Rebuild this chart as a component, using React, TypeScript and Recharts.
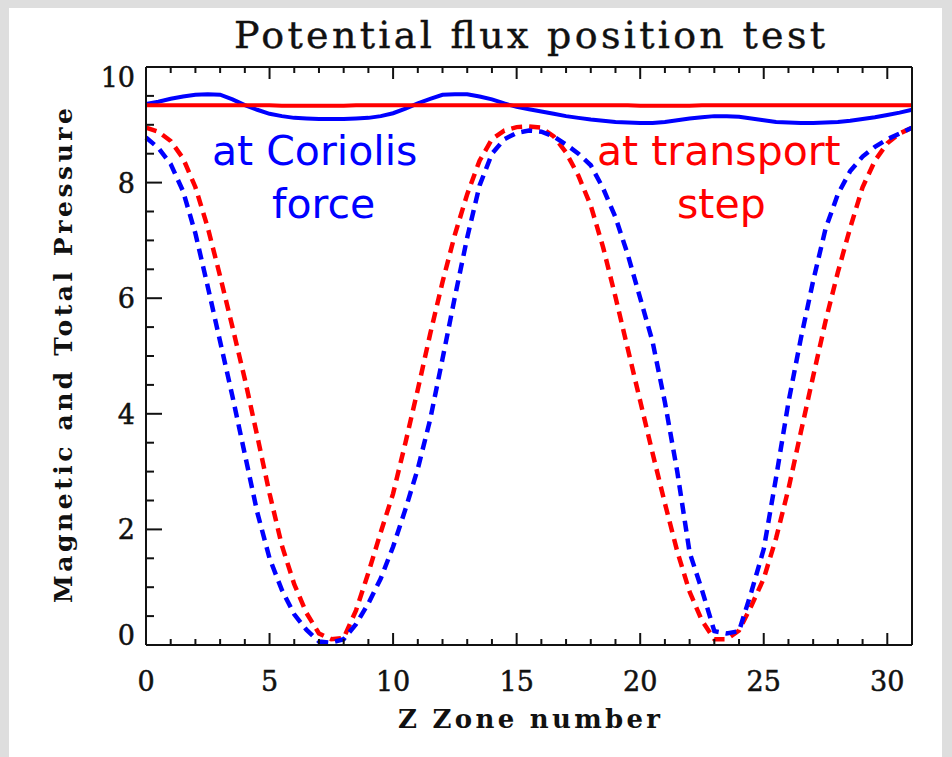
import React from "react";
import { LineChart, Line, XAxis, YAxis } from "recharts";

// zone positions, sampled every half zone
const zValues = [
  0, 0.5, 1, 1.5, 2, 2.5, 3, 3.5, 4, 4.5,
  5, 5.5, 6, 6.5, 7, 7.5, 8, 8.5, 9, 9.5,
  10, 10.5, 11, 11.5, 12, 12.5, 13, 13.5, 14, 14.5,
  15, 15.5, 16, 16.5, 17, 17.5, 18, 18.5, 19, 19.5,
  20, 20.5, 21, 21.5, 22, 22.5, 23, 23.5, 24, 24.5,
  25, 25.5, 26, 26.5, 27, 27.5, 28, 28.5, 29, 29.5,
  30, 30.5, 31,
];

// total pressure, transport step (red solid)
const redTotal = [
  9.34, 9.34, 9.34, 9.34, 9.34, 9.34, 9.34, 9.34, 9.34, 9.34,
  9.34, 9.33, 9.33, 9.33, 9.33, 9.33, 9.33, 9.34, 9.34, 9.34,
  9.34, 9.34, 9.34, 9.34, 9.34, 9.34, 9.34, 9.34, 9.34, 9.34,
  9.34, 9.34, 9.34, 9.34, 9.34, 9.34, 9.34, 9.34, 9.34, 9.34,
  9.33, 9.33, 9.33, 9.33, 9.33, 9.34, 9.34, 9.34, 9.34, 9.34,
  9.34, 9.34, 9.34, 9.34, 9.34, 9.34, 9.34, 9.34, 9.34, 9.34,
  9.34, 9.34, 9.34,
];

// total pressure, Coriolis force (blue solid)
const blueTotal = [
  9.36, 9.4, 9.45, 9.49, 9.52, 9.53, 9.52, 9.44, 9.34, 9.26,
  9.19, 9.15, 9.12, 9.11, 9.1, 9.1, 9.1, 9.11, 9.12, 9.15,
  9.2, 9.28, 9.37, 9.45, 9.52, 9.53, 9.53, 9.49, 9.44, 9.37,
  9.31, 9.27, 9.23, 9.19, 9.15, 9.12, 9.09, 9.07, 9.05, 9.04,
  9.03, 9.03, 9.05, 9.08, 9.11, 9.13, 9.15, 9.15, 9.14, 9.11,
  9.08, 9.05, 9.04, 9.03, 9.03, 9.04, 9.05, 9.07, 9.1, 9.13,
  9.17, 9.21, 9.26,
];

// magnetic pressure, transport step (red dashed)
const redMagnetic = [
  8.95, 8.88, 8.72, 8.42, 7.92, 7.22, 6.38, 5.5, 4.6, 3.62,
  2.62, 1.72, 1.05, 0.55, 0.2, 0.1, 0.12, 0.6, 1.25, 1.95,
  2.62, 3.5, 4.42, 5.38, 6.28, 7.1, 7.8, 8.38, 8.75, 8.9,
  8.96, 8.97, 8.95, 8.8, 8.52, 8.12, 7.6, 6.88, 6.02, 5.12,
  4.22, 3.32, 2.45, 1.62, 0.92, 0.42, 0.1, 0.1, 0.25, 0.68,
  1.15, 1.85, 2.7, 3.68, 4.65, 5.6, 6.45, 7.22, 7.92, 8.38,
  8.68, 8.85, 8.95,
];

// magnetic pressure, Coriolis force (blue dashed)
const blueMagnetic = [
  8.78, 8.6, 8.32, 7.85, 7.12, 6.2, 5.25, 4.3, 3.3, 2.3,
  1.5, 0.95, 0.53, 0.26, 0.06, 0.04, 0.1, 0.36, 0.72, 1.15,
  1.7, 2.35, 3.05, 3.9, 4.95, 6.02, 7.05, 7.95, 8.5, 8.75,
  8.86, 8.9, 8.88, 8.8, 8.66, 8.5, 8.3, 7.9, 7.4, 6.75,
  6.0, 5.25, 4.2, 3.0, 1.6, 0.95, 0.24, 0.2, 0.24, 0.92,
  1.66, 2.9, 4.2, 5.3, 6.3, 7.2, 7.8, 8.2, 8.45, 8.62,
  8.75, 8.85, 8.95,
];

const xTicks = [0, 1, 2, 3, 4, 5, 6, 7, 8, 9, 10, 11, 12, 13, 14, 15, 16, 17, 18, 19, 20, 21, 22, 23, 24, 25, 26, 27, 28, 29, 30, 31];
const xLabels = [0, 5, 10, 15, 20, 25, 30];
const yTicks = [0, 0.5, 1, 1.5, 2, 2.5, 3, 3.5, 4, 4.5, 5, 5.5, 6, 6.5, 7, 7.5, 8, 8.5, 9, 9.5, 10];
const yLabels = [0, 2, 4, 6, 8, 10];

const chartData = zValues.map((z, i) => ({
  z,
  redTotal: redTotal[i],
  blueTotal: blueTotal[i],
  redMagnetic: redMagnetic[i],
  blueMagnetic: blueMagnetic[i],
}));

const BLUE = "#0000ff";
const RED = "#ff0000";
const INK = "#111";
const serif = "DejaVu Serif";
const tickText = { fontFamily: serif, fontSize: 27, fill: INK, stroke: INK, strokeWidth: 0.5 };

// ticks point into the plot, labels only on major ones
const BottomTick = (props: any) => {
  const { x, y, payload } = props;
  const major = xLabels.includes(payload.value);
  return (
    <g>
      <line x1={x} y1={y} x2={x} y2={y - (major ? 12 : 6)} stroke={INK} strokeWidth={2} />
      {major && (
        <text x={x} y={y + 46} textAnchor="middle" {...tickText}>
          {payload.value}
        </text>
      )}
    </g>
  );
};

const TopTick = (props: any) => {
  const { x, y, payload } = props;
  const major = xLabels.includes(payload.value);
  return <line x1={x} y1={y} x2={x} y2={y + (major ? 12 : 6)} stroke={INK} strokeWidth={2} />;
};

const LeftTick = (props: any) => {
  const { x, y, payload } = props;
  const major = yLabels.includes(payload.value);
  // end labels sit a little inside the box, as in the original plot
  const nudge = payload.value === 0 ? -10 : payload.value === 10 ? 10 : 0;
  return (
    <g>
      <line x1={x} y1={y} x2={x + (major ? 16 : 8)} y2={y} stroke={INK} strokeWidth={2} />
      {major && (
        <text x={x - 11} y={y + 10 + nudge} textAnchor="end" {...tickText}>
          {payload.value}
        </text>
      )}
    </g>
  );
};

const RightTick = (props: any) => {
  const { x, y, payload } = props;
  const major = yLabels.includes(payload.value);
  return <line x1={x} y1={y} x2={x - (major ? 16 : 8)} y2={y} stroke={INK} strokeWidth={2} />;
};

const axisLine = { stroke: INK, strokeWidth: 2 };

export default function App() {
  return (
    <div style={{ position: "absolute", left: 0, top: 0, width: 952, height: 757, background: "#dedede" }}>
      <div style={{ position: "absolute", left: 9, top: 8, width: 933, height: 749, background: "#fff" }} />
      <div style={{ position: "absolute", left: 0, top: 0 }}>
        <LineChart width={952} height={757} data={chartData} margin={{ top: 66, right: 39, bottom: 111, left: 145 }}>
          <XAxis
            dataKey="z"
            type="number"
            domain={[0, 31]}
            ticks={xTicks}
            interval={0}
            height={1}
            tickSize={0}
            tickMargin={0}
            tickLine={false}
            axisLine={axisLine}
            tick={<BottomTick />}
          />
          <XAxis
            xAxisId="top"
            orientation="top"
            dataKey="z"
            type="number"
            domain={[0, 31]}
            ticks={xTicks}
            interval={0}
            height={1}
            tickSize={0}
            tickMargin={0}
            tickLine={false}
            axisLine={axisLine}
            tick={<TopTick />}
          />
          <YAxis
            type="number"
            domain={[0, 10]}
            ticks={yTicks}
            interval={0}
            width={1}
            tickSize={0}
            tickMargin={0}
            tickLine={false}
            axisLine={axisLine}
            tick={<LeftTick />}
          />
          <YAxis
            yAxisId="right"
            orientation="right"
            type="number"
            domain={[0, 10]}
            ticks={yTicks}
            interval={0}
            width={1}
            tickSize={0}
            tickMargin={0}
            tickLine={false}
            axisLine={axisLine}
            tick={<RightTick />}
          />
          <Line dataKey="redMagnetic" type="linear" stroke={RED} strokeWidth={4.5} strokeDasharray="11 7" dot={false} isAnimationActive={false} />
          <Line dataKey="blueMagnetic" type="linear" stroke={BLUE} strokeWidth={4.5} strokeDasharray="11 7" dot={false} isAnimationActive={false} />
          <Line dataKey="blueTotal" type="linear" stroke={BLUE} strokeWidth={4} dot={false} isAnimationActive={false} />
          <Line dataKey="redTotal" type="linear" stroke={RED} strokeWidth={4} dot={false} isAnimationActive={false} />
        </LineChart>
      </div>
      <svg width={952} height={757} style={{ position: "absolute", left: 0, top: 0, pointerEvents: "none" }}>
        <text x={234} y={48} fontFamily={serif} fontSize={38} fill={INK} stroke={INK} strokeWidth={0.4} textLength={591} lengthAdjust="spacing">
          Potential flux position test
        </text>
        <text x={398} y={728} fontFamily={serif} fontSize={26} fontWeight="bold" fill={INK} textLength={262} lengthAdjust="spacing">
          Z Zone number
        </text>
        <text
          transform="translate(72,603) rotate(-90)"
          fontFamily={serif}
          fontSize={25}
          fontWeight="bold"
          fill={INK}
          textLength={495}
          lengthAdjust="spacing"
        >
          Magnetic and Total Pressure
        </text>
        <g fontFamily="DejaVu Sans" fontSize={41}>
          <text x={212} y={165} fill={BLUE}>at Coriolis</text>
          <text x={272} y={218} fill={BLUE}>force</text>
          <text x={597} y={165} fill={RED}>at transport</text>
          <text x={677} y={218} fill={RED}>step</text>
        </g>
      </svg>
    </div>
  );
}
